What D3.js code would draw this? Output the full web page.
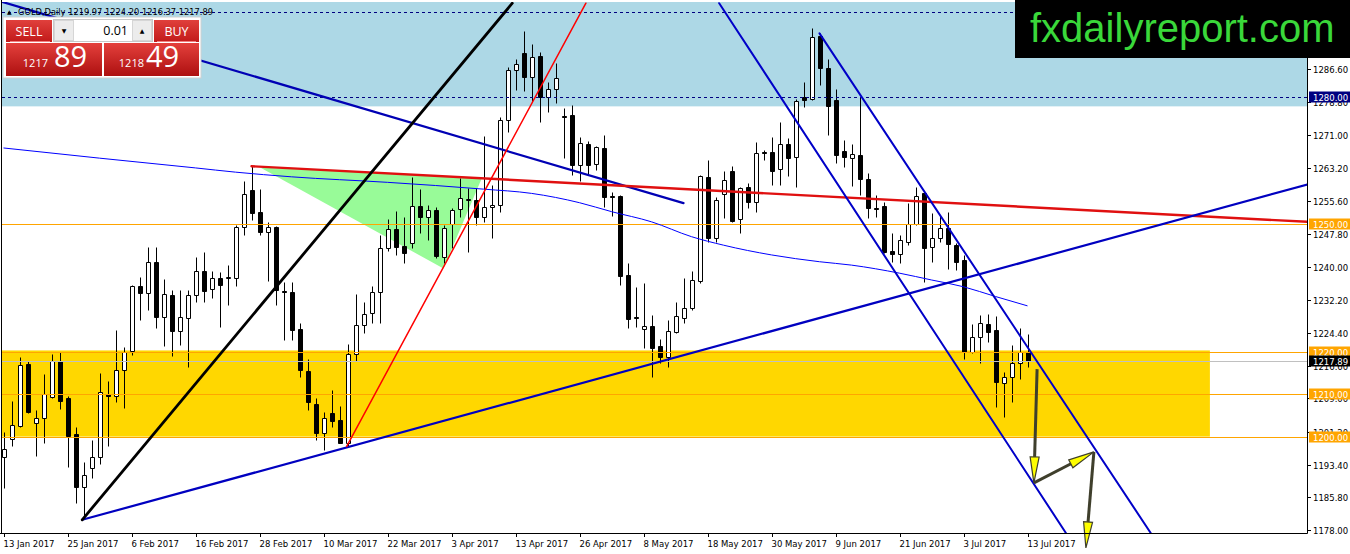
<!DOCTYPE html>
<html><head><meta charset="utf-8">
<script src="https://cdn.jsdelivr.net/npm/d3@7"></script>
<style>
html,body{margin:0;padding:0;background:#fff;}
svg{display:block;}
</style></head><body>
<svg id="c" width="1350" height="554"></svg>
<script>
// ---------- DATA ----------
const openP  = [1195.1,1199.4,1202.6,1217.1,1203.3,1204.5,1209.4,1217.8,1209.0,1200.5,1188.2,1192.5,1195.3,1210.0,1209.6,1215.7,1220.2,1235.5,1233.8,1241.2,1228.2,1233.4,1224.9,1227.9,1233.4,1238.9,1234.7,1237.3,1237.4,1237.3,1249.3,1258.1,1252.8,1248.1,1249.3,1234.3,1234.0,1225.3,1215.5,1207.8,1200.8,1205.5,1203.9,1198.6,1219.5,1226.3,1229.2,1234.0,1244.4,1248.9,1245.0,1245.5,1254.3,1251.7,1253.4,1242.4,1250.1,1253.6,1255.8,1255.7,1251.7,1254.0,1254.6,1274.6,1286.4,1290.3,1284.6,1289.7,1279.9,1282.0,1275.6,1275.8,1264.0,1268.9,1264.2,1268.1,1256.6,1256.7,1238.1,1228.2,1225.3,1226.1,1221.3,1218.8,1224.7,1228.0,1230.2,1236.7,1261.2,1246.7,1257.1,1262.6,1251.3,1258.7,1255.3,1267.1,1267.0,1263.0,1268.9,1265.8,1280.1,1279.5,1294.4,1286.9,1279.3,1267.3,1265.6,1266.3,1260.6,1253.9,1254.3,1243.7,1243.0,1245.9,1250.2,1257.3,1244.6,1246.8,1249.1,1245.1,1241.6,1220.0,1223.4,1226.5,1225.1,1212.7,1214.0,1217.4,1219.97];
const highP  = [1201.2,1208.4,1218.8,1217.8,1206.3,1214.7,1219.5,1219.9,1209.6,1202.3,1194.0,1199.2,1215.1,1213.1,1225.1,1221.2,1235.7,1237.7,1244.7,1244.7,1237.1,1234.5,1234.5,1234.5,1242.4,1243.6,1238.9,1238.7,1240.4,1249.8,1260.1,1263.7,1258.3,1250.6,1249.5,1236.5,1236.5,1226.8,1218.3,1209.0,1205.9,1211.0,1207.2,1221.8,1233.6,1231.6,1235.5,1247.5,1251.3,1253.2,1251.8,1261.1,1258.3,1254.6,1254.1,1249.8,1253.9,1260.9,1258.5,1258.5,1270.8,1259.3,1275.2,1287.1,1288.9,1295.6,1292.5,1290.7,1283.6,1288.0,1277.3,1278.1,1270.5,1269.7,1268.5,1271.1,1257.7,1256.9,1241.0,1235.3,1236.3,1228.6,1223.0,1227.5,1231.6,1237.3,1238.9,1261.6,1265.2,1256.5,1262.6,1263.8,1258.9,1259.7,1269.3,1267.5,1270.5,1274.0,1270.4,1279.5,1283.6,1296.2,1295.0,1288.9,1282.0,1269.9,1268.9,1280.1,1262.0,1256.9,1255.3,1248.0,1247.5,1255.0,1258.9,1257.7,1252.6,1252.2,1253.0,1245.5,1242.8,1226.5,1228.6,1229.0,1228.4,1215.3,1221.6,1225.5,1224.20];
const lowP   = [1187.8,1197.9,1202.3,1205.5,1195.5,1198.4,1209.0,1206.4,1192.9,1184.3,1180.8,1190.2,1193.5,1197.9,1208.2,1206.7,1219.2,1227.5,1229.8,1225.5,1221.3,1219.0,1221.6,1216.5,1231.8,1231.8,1232.6,1225.9,1231.0,1235.5,1247.5,1251.0,1247.5,1236.7,1231.0,1222.8,1222.8,1214.1,1206.3,1199.2,1196.8,1202.2,1198.4,1197.7,1217.9,1224.3,1226.7,1226.7,1243.8,1242.8,1240.8,1244.4,1247.9,1246.3,1242.0,1240.8,1244.4,1251.8,1243.6,1249.8,1250.6,1246.9,1253.0,1271.8,1281.7,1281.3,1278.9,1274.0,1276.5,1278.5,1265.6,1261.6,1260.1,1261.6,1262.8,1254.2,1252.0,1235.7,1225.5,1225.9,1220.9,1214.1,1217.3,1216.5,1224.3,1226.7,1229.8,1236.3,1245.9,1245.9,1251.4,1250.6,1247.9,1253.8,1253.0,1265.2,1259.3,1259.3,1261.5,1258.9,1277.6,1279.3,1282.8,1271.1,1264.4,1263.6,1259.1,1256.9,1251.4,1251.8,1243.2,1241.2,1240.8,1245.1,1249.8,1236.5,1241.2,1245.9,1239.6,1239.2,1218.4,1219.8,1217.3,1222.3,1207.0,1204.7,1208.2,1213.5,1216.37];
const closeP = [1197.0,1202.7,1216.9,1205.9,1204.5,1210.0,1217.8,1208.5,1200.2,1188.2,1190.9,1195.1,1210.4,1209.6,1215.7,1219.9,1235.5,1233.8,1241.2,1228.2,1233.6,1224.9,1228.1,1233.4,1238.9,1234.2,1237.3,1235.6,1237.6,1249.3,1257.1,1252.6,1248.1,1249.3,1234.5,1234.1,1225.1,1215.6,1208.1,1200.9,1204.5,1203.7,1198.6,1219.5,1226.3,1229.0,1234.0,1244.4,1248.9,1244.7,1243.3,1254.3,1251.8,1253.4,1242.5,1249.1,1253.4,1256.1,1256.0,1251.8,1254.0,1254.6,1274.6,1286.4,1287.8,1284.6,1289.5,1279.9,1281.8,1284.4,1275.4,1263.9,1269.1,1264.0,1268.2,1256.4,1256.4,1237.9,1227.7,1228.0,1226.1,1220.8,1218.8,1224.9,1228.3,1230.2,1236.9,1261.4,1246.7,1255.7,1260.4,1250.9,1258.5,1255.3,1266.8,1266.9,1262.6,1268.9,1265.7,1279.1,1279.3,1294.1,1286.9,1277.8,1266.3,1265.8,1266.6,1260.8,1253.8,1253.7,1243.6,1243.0,1246.3,1250.2,1256.7,1244.4,1246.8,1249.1,1245.4,1241.2,1220.0,1223.4,1226.7,1224.7,1212.9,1214.0,1217.4,1220.0,1217.89];

const xTickIdx    = [0,8,16,24,32,40,48,56,64,72,80,88,96,104,112,120,128];
const xTickLabels = ["13 Jan 2017","25 Jan 2017","6 Feb 2017","16 Feb 2017","28 Feb 2017","10 Mar 2017","22 Mar 2017","3 Apr 2017","13 Apr 2017","26 Apr 2017","8 May 2017","18 May 2017","30 May 2017","9 Jun 2017","21 Jun 2017","3 Jul 2017","13 Jul 2017"];
const yTicks = [1286.6,1278.8,1271.0,1263.2,1255.6,1247.8,1240.0,1232.2,1224.4,1216.6,1209.0,1201.2,1193.4,1185.8,1178.0];

// moving average
const maIdx = [0,12,24,29,36,48,60,66,72,76,81,86,90,96,102,106,112,116,120,124,128];
const maVal = [1268.0,1265.6,1263.3,1262.3,1261.2,1259.9,1258.3,1257.3,1255.1,1253.0,1250.6,1247.1,1245.1,1242.8,1241.2,1240.4,1238.5,1236.9,1235.3,1233.0,1230.8];

// drawn objects: [barIndex, price]
const blackTrend  = [[9.84,1180.4],[63.6,1302.1]];
const redSteep    = [[42.9,1197.7],[72.8,1302.1]];
const blueSupport = [[9.84,1180.4],[163,1259.4]];
const blueResist  = [[-0.5,1302.6],[85,1255.0]];
const redFlat     = [[31,1263.7],[163,1250.6]];
const chanLower   = [[89.46,1302.1],[132.8,1177.3]];
const chanUpper   = [[102,1295.0],[143.4,1177.3]];
const greenTri    = [[32.09,1263.4],[59.8,1260.9],[55.0,1239.6]];
const arrowPts    = [[129.2,1215.9],[128.8,1189.1],[136.3,1196.4],[135.3,1173.8]];
const blueZone    = [1277.8,1312];
const yellowZone  = [1200,1220.3];
const yellowZoneEnd = 150.8;

const dashedLevels = [1300,1280];
const orangeLevels = [1250,1220,1210,1200];
const bidPrice = 1217.89;
const header = "GOLD,Daily 1219.97 1224.20 1216.37 1217.89";
const sellBig = "1217", sellSmall = "89", buyBig = "1218", buySmall = "49", lotText = "0.01";
const brand = "fxdailyreport.com";

// ---------- DRAW ----------
const W = 1350, H = 554, plotR = 1307, plotB = 533;
const x = d3.scaleLinear().domain([0,128]).range([3.5, 3.5+8*128]);
const y = d3.scaleLinear().domain([1178,1286.6]).range([530,69]);
const yc = v => Math.round(y(v)) + 0.5;

const svg = d3.select('#c');
const defs = svg.append('defs');
defs.append('clipPath').attr('id','pc').append('rect').attr('x',2).attr('y',2).attr('width',plotR-2).attr('height',plotB-2);
const g1 = defs.append('linearGradient').attr('id','redG').attr('x1',0).attr('y1',0).attr('x2',0).attr('y2',1);
g1.append('stop').attr('offset','0%').attr('stop-color','#e4403c');
g1.append('stop').attr('offset','100%').attr('stop-color','#ad1010');
const g2 = defs.append('linearGradient').attr('id','redG2').attr('x1',0).attr('y1',0).attr('x2',0).attr('y2',1);
g2.append('stop').attr('offset','0%').attr('stop-color','#e0403c');
g2.append('stop').attr('offset','100%').attr('stop-color','#c21a1a');

svg.append('rect').attr('width',W).attr('height',H).attr('fill','#fff');
const plot = svg.append('g').attr('clip-path','url(#pc)');

// zones
plot.append('rect').attr('x',2).attr('width',plotR-2)
  .attr('y',y(blueZone[1])).attr('height',y(blueZone[0])-y(blueZone[1])).attr('fill','#add8e6');
plot.append('rect').attr('x',2).attr('width',x(yellowZoneEnd)-2)
  .attr('y',y(yellowZone[1])).attr('height',y(yellowZone[0])-y(yellowZone[1])).attr('fill','#ffd700');
plot.append('polygon').attr('points',greenTri.map(p=>[x(p[0]),y(p[1])].join(',')).join(' ')).attr('fill','#98fb98');

// candles
const cg = plot.append('g');
openP.forEach((o,i)=>{
  const c = closeP[i], xc = Math.round(x(i)) + 0.5;
  cg.append('line').attr('x1',xc).attr('x2',xc).attr('y1',yc(highP[i])).attr('y2',yc(lowP[i]))
    .attr('stroke','#000').attr('stroke-width',1);
  const t = yc(Math.max(o,c)), b = yc(Math.min(o,c));
  cg.append('path').attr('d',`M${xc-2},${t}H${xc+2}V${b}H${xc-2}Z`)
    .attr('fill', c>=o ? '#fff' : '#000').attr('stroke','#000').attr('stroke-width',1);
});

// horizontal levels
dashedLevels.forEach(v=>{
  plot.append('line').attr('x1',2).attr('x2',plotR).attr('y1',yc(v)).attr('y2',yc(v))
    .attr('stroke','#000080').attr('stroke-width',1).attr('stroke-dasharray','3,3');
});
orangeLevels.forEach(v=>{
  plot.append('line').attr('x1',2).attr('x2',plotR).attr('y1',yc(v)).attr('y2',yc(v))
    .attr('stroke','#ffa500').attr('stroke-width',1);
});
plot.append('line').attr('x1',2).attr('x2',plotR).attr('y1',yc(bidPrice)).attr('y2',yc(bidPrice))
  .attr('stroke','#c0c0c0').attr('stroke-width',1);

// moving average
plot.append('path').datum(maIdx.map((d,i)=>[d,maVal[i]]))
  .attr('d', d3.line().x(d=>x(d[0])).y(d=>y(d[1])).curve(d3.curveMonotoneX))
  .attr('fill','none').attr('stroke','#0000ff').attr('stroke-width',1);

// trend lines
const seg = (pts,color,w)=> plot.append('line')
  .attr('x1',x(pts[0][0])).attr('y1',y(pts[0][1])).attr('x2',x(pts[1][0])).attr('y2',y(pts[1][1]))
  .attr('stroke',color).attr('stroke-width',w).attr('stroke-linecap','round');
seg(blueResist,'#0000b4',2.2);
seg(redFlat,'#e01010',2.4);
seg(blueSupport,'#0000c0',2.2);
seg(blackTrend,'#000',2.8);
seg(redSteep,'#ff0000',1.5);
seg(chanLower,'#0000c8',2);
seg(chanUpper,'#0000c8',2);

// arrows
const ag = svg.append('g');
for (let k=0;k<arrowPts.length-1;k++){
  const a=[x(arrowPts[k][0]),y(arrowPts[k][1])], b=[x(arrowPts[k+1][0]),y(arrowPts[k+1][1])];
  const dx=b[0]-a[0], dy=b[1]-a[1], L=Math.hypot(dx,dy), ux=dx/L, uy=dy/L;
  const len=26, hw=4.5;
  const bx=b[0]-ux*len, by=b[1]-uy*len;
  ag.append('line').attr('x1',a[0]).attr('y1',a[1]).attr('x2',bx+ux*4).attr('y2',by+uy*4)
    .attr('stroke','#3f3f2c').attr('stroke-width',3);
  ag.append('polygon').attr('points',[[b[0],b[1]],[bx-uy*hw,by+ux*hw],[bx+uy*hw,by-ux*hw]].map(p=>p.join(',')).join(' '))
    .attr('fill','#ffff00').attr('stroke','#3f3f2c').attr('stroke-width',1.2);
}

// frame / axes
svg.append('line').attr('x1',1.5).attr('x2',1.5).attr('y1',0).attr('y2',plotB+0.5).attr('stroke','#000');
svg.append('line').attr('x1',0).attr('x2',plotR+0.5).attr('y1',plotB+0.5).attr('y2',plotB+0.5).attr('stroke','#000');
svg.append('line').attr('x1',plotR+0.5).attr('x2',plotR+0.5).attr('y1',0).attr('y2',plotB+0.5).attr('stroke','#000');

const AF = 'DejaVu Sans, Verdana, sans-serif';
xTickIdx.forEach((d,i)=>{
  const xx = Math.round(x(d))+0.5;
  svg.append('line').attr('x1',xx).attr('x2',xx).attr('y1',plotB).attr('y2',plotB+4).attr('stroke','#000');
  svg.append('text').attr('x',xx-1).attr('y',547).attr('font-family',AF).attr('font-size','8.5px')
    .attr('fill','#000').text(xTickLabels[i]);
});
yTicks.forEach(v=>{
  const yy = yc(v);
  svg.append('line').attr('x1',plotR).attr('x2',plotR+4).attr('y1',yy).attr('y2',yy).attr('stroke','#000');
  svg.append('text').attr('x',1313).attr('y',yy+3).attr('font-family',AF).attr('font-size','8.5px')
    .attr('fill','#000').text(v.toFixed(2));
});

// level labels
const lab = (v,bg)=>{
  const yy = y(v);
  svg.append('rect').attr('x',1309).attr('y',Math.round(yy)-5.5).attr('width',41).attr('height',11).attr('fill',bg);
  svg.append('text').attr('x',1313).attr('y',Math.round(yy)+3.5).attr('font-family',AF).attr('font-size','8.5px')
    .attr('fill','#fff').text(v.toFixed(2));
};
lab(dashedLevels[1],'#000080');
orangeLevels.forEach(v=>lab(v,'#ffa500'));
lab(bidPrice,'#000');

// header
svg.append('text').attr('x',7).attr('y',14).attr('font-family',AF).attr('font-size','6px').attr('fill','#000').text('▲');
svg.append('text').attr('x',18).attr('y',14.5).attr('font-family',AF).attr('font-size','9.5px')
  .attr('textLength',195).attr('lengthAdjust','spacingAndGlyphs').attr('fill','#000').text(header);

// brand box
svg.append('rect').attr('x',1015).attr('y',0).attr('width',W-1015).attr('height',58).attr('fill','#000');
svg.append('text').attr('x',1030).attr('y',42).attr('font-family','Liberation Sans, Arial, sans-serif')
  .attr('font-size','40px').attr('fill','#3ad83a').text(brand);

// trade panel
const P = svg.append('g');
const PF = 'Open Sans, Noto Sans, sans-serif';
P.append('rect').attr('x',3).attr('y',17).attr('width',198).attr('height',61).attr('fill','#fff').attr('stroke','#d0d0d0');
P.append('rect').attr('x',6).attr('y',20).attr('width',46).attr('height',22).attr('fill','url(#redG2)');
P.append('rect').attr('x',154).attr('y',20).attr('width',45).attr('height',22).attr('fill','url(#redG2)');
P.append('line').attr('x1',10).attr('x2',50).attr('y1',41.5).attr('y2',41.5).attr('stroke','#f08080');
P.append('line').attr('x1',157).attr('x2',196).attr('y1',41.5).attr('y2',41.5).attr('stroke','#f08080');
P.append('text').attr('x',29).attr('y',35.5).attr('text-anchor','middle').attr('font-family',PF).attr('font-size','12.5px').attr('fill','#fff').text('SELL');
P.append('text').attr('x',176.5).attr('y',35.5).attr('text-anchor','middle').attr('font-family',PF).attr('font-size','12.5px').attr('fill','#fff').text('BUY');
P.append('rect').attr('x',53.5).attr('y',19.5).attr('width',99).attr('height',22).attr('fill','#fff').attr('stroke','#c8c8c8');
P.append('rect').attr('x',54.5).attr('y',20.5).attr('width',19).attr('height',20).attr('fill','#ececec').attr('stroke','#d6d6d6');
P.append('rect').attr('x',132.5).attr('y',20.5).attr('width',19).attr('height',20).attr('fill','#ececec').attr('stroke','#d6d6d6');
P.append('text').attr('x',64).attr('y',33).attr('text-anchor','middle').attr('font-family',AF).attr('font-size','6px').attr('fill','#000').text('▼');
P.append('text').attr('x',142).attr('y',33).attr('text-anchor','middle').attr('font-family',AF).attr('font-size','6px').attr('fill','#000').text('▲');
P.append('text').attr('x',128).attr('y',35).attr('text-anchor','end').attr('font-family',PF).attr('font-size','12.5px').attr('fill','#000').text(lotText);
P.append('rect').attr('x',6).attr('y',43).attr('width',96).attr('height',33).attr('fill','url(#redG)');
P.append('rect').attr('x',104).attr('y',43).attr('width',95).attr('height',33).attr('fill','url(#redG)');
P.append('text').attr('x',48).attr('y',67).attr('text-anchor','end').attr('font-family',PF).attr('font-size','11px').attr('fill','#fff').text(sellBig);
P.append('text').attr('x',54).attr('y',67).attr('font-family',PF).attr('font-size','29px').attr('fill','#fff').text(sellSmall);
P.append('text').attr('x',144).attr('y',67).attr('text-anchor','end').attr('font-family',PF).attr('font-size','11px').attr('fill','#fff').text(buyBig);
P.append('text').attr('x',146).attr('y',67).attr('font-family',PF).attr('font-size','29px').attr('fill','#fff').text(buySmall);
</script>
</body></html>
